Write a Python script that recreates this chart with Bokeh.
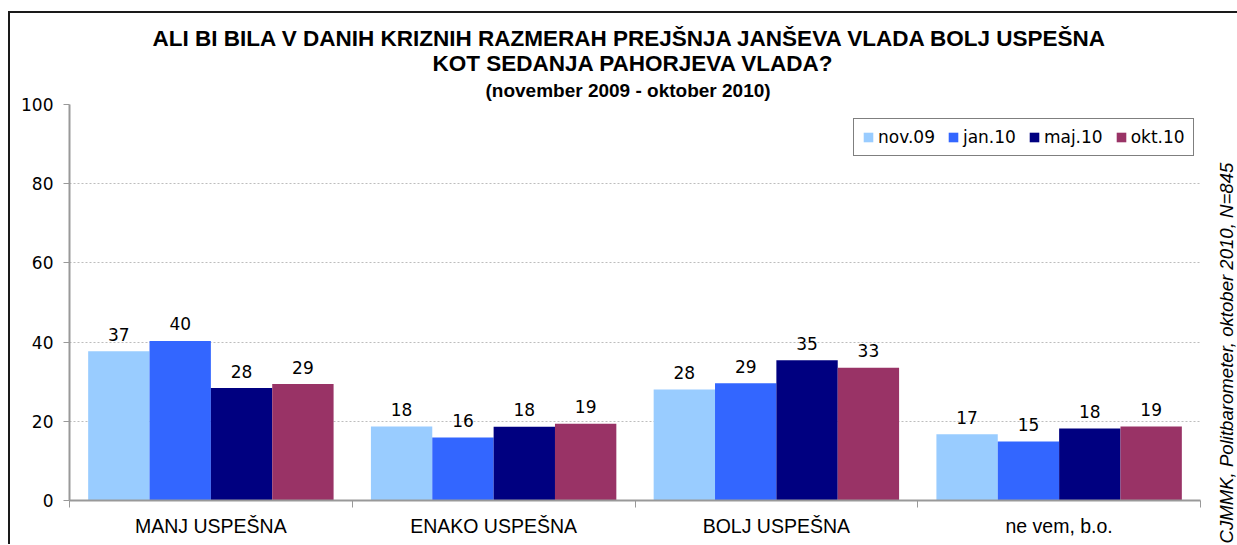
from bokeh.plotting import figure
from bokeh.layouts import row
from bokeh.models import ColumnDataSource, FixedTicker, Legend, LegendItem, Title
from bokeh.core.properties import value
from bokeh.embed import file_html
from bokeh.resources import INLINE

# ---- data ----
categories = ["MANJ USPEŠNA", "ENAKO USPEŠNA", "BOLJ USPEŠNA", "ne vem, b.o."]
series = ["nov.09", "jan.10", "maj.10", "okt.10"]
nov09 = [37.7, 18.7, 28.0, 16.7]
jan10 = [40.3, 15.9, 29.6, 14.9]
maj10 = [28.4, 18.6, 35.4, 18.2]
okt10 = [29.4, 19.4, 33.5, 18.7]
nov09_labels = ["37", "18", "28", "17"]
jan10_labels = ["40", "16", "29", "15"]
maj10_labels = ["28", "18", "35", "18"]
okt10_labels = ["29", "19", "33", "19"]
y_ticks = [0, 20, 40, 60, 80, 100]

title_1 = "ALI BI BILA V DANIH KRIZNIH RAZMERAH PREJŠNJA JANŠEVA VLADA BOLJ USPEŠNA"
title_2 = "KOT SEDANJA PAHORJEVA VLADA?"
subtitle = "(november 2009 -  oktober 2010)"
source_note = "CJMMK, Politbarometer, oktober 2010, N=845"

colors = ["#99CCFF", "#3366FF", "#000080", "#993366"]
values_all = [nov09, jan10, maj10, okt10]
labels_all = [nov09_labels, jan10_labels, maj10_labels, okt10_labels]

NUM_FONT = "DejaVu Sans"
TXT_FONT = "Liberation Sans"
H = 531
TOP, BOTTOM = 91, 44

p = figure(width=1200, height=H, output_backend="svg", toolbar_location=None,
           x_range=(0, len(categories)), y_range=(0, 100),
           min_border_left=59, min_border_right=10, min_border_top=TOP, min_border_bottom=BOTTOM)
p.title = None
p.outline_line_color = None
p.background_fill_color = "white"
p.border_fill_color = "white"

bar_w = 0.217
renderers = []
for j, (name, vals, labs, col) in enumerate(zip(series, values_all, labels_all, colors)):
    xs = [i + 0.5 + (j - 1.5) * bar_w for i in range(len(categories))]
    src = ColumnDataSource(dict(x=xs, top=vals, lab=labs))
    r = p.vbar(x="x", top="top", width=bar_w, bottom=0, source=src,
               fill_color=col, line_color=None)
    renderers.append((name, r))
    p.text(x="x", y="top", text="lab", source=src, text_align="center",
           text_baseline="alphabetic", y_offset=-17,
           text_font=value(NUM_FONT), text_font_size="17px", text_color="black")

# axes
p.xaxis.ticker = FixedTicker(ticks=[i + 0.5 for i in range(len(categories))],
                             minor_ticks=list(range(len(categories) + 1)))
p.xaxis.major_label_overrides = {i + 0.5: c for i, c in enumerate(categories)}
p.xaxis.major_tick_out = 0
p.xaxis.major_tick_in = 0
p.xaxis.minor_tick_out = 7
p.xaxis.minor_tick_in = 0
p.xaxis.minor_tick_line_color = "#999999"
p.xaxis.axis_line_color = "#999999"
p.xaxis.axis_line_width = 2
p.xaxis.major_label_standoff = 7
p.xaxis.major_label_text_font = TXT_FONT
p.xaxis.major_label_text_font_size = "19.5px"
p.xaxis.major_label_text_color = "black"

p.yaxis.ticker = FixedTicker(ticks=y_ticks)
p.yaxis.minor_tick_line_color = None
p.yaxis.major_tick_out = 6
p.yaxis.major_tick_in = 0
p.yaxis.major_tick_line_color = "#999999"
p.yaxis.axis_line_color = "#999999"
p.yaxis.axis_line_width = 2
p.yaxis.major_label_standoff = 10
p.yaxis.major_label_text_font = NUM_FONT
p.yaxis.major_label_text_font_size = "17px"
p.yaxis.major_label_text_color = "black"

p.xgrid.grid_line_color = None
p.ygrid.grid_line_color = "#bdbdbd"
p.ygrid.grid_line_dash = "2 2"
p.ygrid.grid_line_width = 1

# legend
legend = Legend(items=[LegendItem(label=n, renderers=[r]) for n, r in renderers],
                orientation="horizontal", location=(784, 344),
                border_line_color="black", border_line_width=1,
                background_fill_color="white", background_fill_alpha=1,
                glyph_width=12, glyph_height=12, label_standoff=4, spacing=12,
                padding=8, margin=0,
                label_text_font=NUM_FONT, label_text_font_size="17px",
                label_text_color="black")
p.add_layout(legend, "center")

# titles (first added sits closest to the plot); left-aligned with offsets
p.add_layout(Title(text=subtitle, align="left", offset=416, text_font=TXT_FONT,
                   text_font_style="bold", text_font_size="19px",
                   text_color="black", standoff=8), "above")
p.add_layout(Title(text=title_2, align="left", offset=363, text_font=TXT_FONT,
                   text_font_style="bold", text_font_size="22.5px",
                   text_color="black", standoff=-4), "above")
p.add_layout(Title(text=title_1, align="left", offset=83, text_font=TXT_FONT,
                   text_font_style="bold", text_font_size="22.5px",
                   text_color="black", standoff=-1), "above")

# narrow side panel: the source note is a left-side title (reads bottom to top)
side = figure(width=27, height=H, output_backend="svg", toolbar_location=None,
              x_range=(0, 1), y_range=(0, 1),
              min_border_left=26, min_border_right=0, min_border_top=TOP, min_border_bottom=BOTTOM,
              x_axis_type=None, y_axis_type=None)
side.title = None
side.outline_line_color = None
side.grid.grid_line_color = None
side.background_fill_color = "white"
side.border_fill_color = "white"
side.add_layout(Title(text=source_note, align="left", offset=-43, standoff=0,
                      text_font=TXT_FONT, text_font_style="italic",
                      text_font_size="18.6px", text_color="black"), "left")

layout = row(p, side)
layout.styles = {"border-top": "2px solid #1a1a1a", "border-left": "2px solid #1a1a1a",
                 "margin-left": "8px", "margin-top": "11px"}

open("out.html", "w").write(file_html(layout, INLINE))
